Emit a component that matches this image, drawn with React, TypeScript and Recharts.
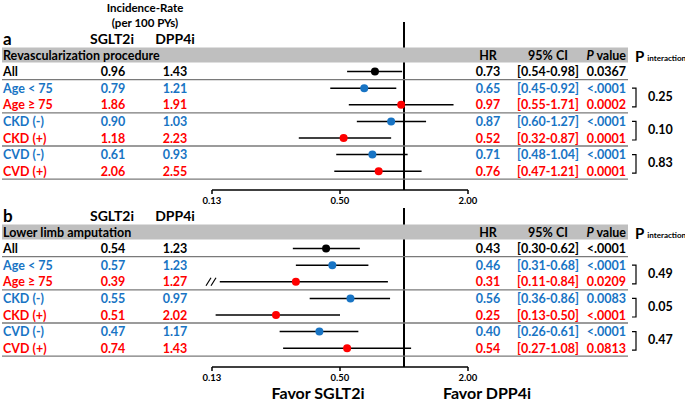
import React from 'react'
import { ScatterChart, Scatter, XAxis, YAxis, ErrorBar, ReferenceLine, ReferenceDot } from 'recharts'

const SUBGROUPS = ['All', 'Age < 75', 'Age ≥ 75', 'CKD (-)', 'CKD (+)', 'CVD (-)', 'CVD (+)']
const X_TICKS = [0.125, 0.5, 2]

// panel a: revascularization
const REV_SGLT2 = [0.96, 0.79, 1.86, 0.9, 1.18, 0.61, 2.06]
const REV_DPP4 = [1.43, 1.21, 1.91, 1.03, 2.23, 0.93, 2.55]
const REV_HR = [0.73, 0.65, 0.97, 0.87, 0.52, 0.71, 0.76]
const REV_LO = [0.54, 0.45, 0.55, 0.6, 0.32, 0.48, 0.47]
const REV_HI = [0.98, 0.92, 1.71, 1.27, 0.87, 1.04, 1.21]
const REV_P = ['0.0367', '<.0001', '0.0002', '<.0001', '0.0001', '<.0001', '0.0001']
const REV_PINT = ['0.25', '0.10', '0.83']

// panel b: amputation
const AMP_SGLT2 = [0.54, 0.57, 0.39, 0.55, 0.51, 0.47, 0.74]
const AMP_DPP4 = [1.23, 1.23, 1.27, 0.97, 2.02, 1.17, 1.43]
const AMP_HR = [0.43, 0.46, 0.31, 0.56, 0.25, 0.4, 0.54]
const AMP_LO = [0.3, 0.31, 0.11, 0.36, 0.13, 0.26, 0.27]
const AMP_HI = [0.62, 0.68, 0.84, 0.86, 0.5, 0.61, 1.08]
const AMP_P = ['<.0001', '<.0001', '0.0209', '0.0083', '<.0001', '<.0001', '0.0813']
const AMP_PINT = ['0.49', '0.05', '0.47']

const AXIS_MIN = 0.125
const BREAK_LO = 0.136

const BLACK = '#000'
const BLUE = '#1874c4'
const RED = '#ff0000'
const ROW_COLOR = [BLACK, BLUE, RED, BLUE, RED, BLUE, RED]
const FONT = 'Lato, sans-serif'
const FS = 12.5

const ROW_H = 16.6
const HEADER_Y = 55
const AXIS_Y = 190

type Panel = {
  letter: string
  title: string
  sglt2: number[]
  dpp4: number[]
  hr: number[]
  lo: number[]
  hi: number[]
  p: string[]
  pint: string[]
  showIR: boolean
}

const PANELS: Panel[] = [
  { letter: 'a', title: 'Revascularization procedure', sglt2: REV_SGLT2, dpp4: REV_DPP4, hr: REV_HR, lo: REV_LO, hi: REV_HI, p: REV_P, pint: REV_PINT, showIR: true },
  { letter: 'b', title: 'Lower limb amputation', sglt2: AMP_SGLT2, dpp4: AMP_DPP4, hr: AMP_HR, lo: AMP_LO, hi: AMP_HI, p: AMP_P, pint: AMP_PINT, showIR: false },
]

const txt = { fontFamily: FONT, fontWeight: 700 } as const

function RowTick(props: any) {
  const { y, payload, panel } = props
  const i: number = payload.value
  const p: Panel = panel
  if (i === 0) {
    return (
      <g style={txt}>
        <rect x={2} y={y - 7.5} width={626} height={15} fill="#bfbfbf" />
        <text x={3} y={y} dominantBaseline="central" fontSize={FS} fill={BLACK}>{p.title}</text>
        <text x={488} y={y} dominantBaseline="central" textAnchor="middle" fontSize={FS}>HR</text>
        <text x={548} y={y} dominantBaseline="central" textAnchor="middle" fontSize={FS}>95% CI</text>
        <text x={626} y={y} dominantBaseline="central" textAnchor="end" fontSize={FS}>
          <tspan fontStyle="italic">P</tspan> value
        </text>
        <text x={635} y={y + 1} dominantBaseline="central" fontSize={15}>
          P<tspan fontSize={8} dx={3} dy={2}>interaction</tspan>
        </text>
        <text x={3} y={y - 17} dominantBaseline="central" fontSize={17}>{p.letter}</text>
        <text x={112} y={y - 17} dominantBaseline="central" textAnchor="middle" fontSize={14}>SGLT2i</text>
        <text x={175} y={y - 17} dominantBaseline="central" textAnchor="middle" fontSize={14}>DPP4i</text>
        {p.showIR && (
          <>
            <text x={145} y={y - 48} dominantBaseline="central" textAnchor="middle" fontSize={11.5}>Incidence-Rate</text>
            <text x={145} y={y - 33} dominantBaseline="central" textAnchor="middle" fontSize={11.5}>(per 100 PYs)</text>
          </>
        )}
      </g>
    )
  }
  const k = i - 1
  const color = ROW_COLOR[k]
  const pairStart = k % 2 === 1
  return (
    <g style={txt} fill={color}>
      <text x={3} y={y} dominantBaseline="central" fontSize={FS}>{SUBGROUPS[k]}</text>
      <text x={113} y={y} dominantBaseline="central" textAnchor="middle" fontSize={FS}>{p.sglt2[k].toFixed(2)}</text>
      <text x={175} y={y} dominantBaseline="central" textAnchor="middle" fontSize={FS}>{p.dpp4[k].toFixed(2)}</text>
      <text x={488} y={y} dominantBaseline="central" textAnchor="middle" fontSize={FS}>{p.hr[k].toFixed(2)}</text>
      <text x={548} y={y} dominantBaseline="central" textAnchor="middle" fontSize={FS}>
        [{p.lo[k].toFixed(2)}-{p.hi[k].toFixed(2)}]
      </text>
      <text x={626} y={y} dominantBaseline="central" textAnchor="end" fontSize={FS}>{p.p[k]}</text>
      {k % 2 === 0 && <line x1={2} x2={628} y1={y + 8} y2={y + 8} stroke="#7a7a7a" strokeWidth={1.3} />}
      {pairStart && (
        <>
          <path d={`M632,${y} H636 V${y + ROW_H + 2} H632`} fill="none" stroke={BLACK} strokeWidth={1.2} />
          <text x={648} y={y + ROW_H / 2} dominantBaseline="central" fontSize={FS} fill={BLACK}>
            {p.pint[(k - 1) / 2]}
          </text>
        </>
      )}
    </g>
  )
}

function BreakMark(props: any) {
  const { cx, cy } = props
  return (
    <g stroke={BLACK} strokeWidth={1.2}>
      <line x1={cx - 6} y1={cy + 4} x2={cx - 1} y2={cy - 4} />
      <line x1={cx - 1} y1={cy + 4} x2={cx + 4} y2={cy - 4} />
    </g>
  )
}

function ForestPanel({ panel, top, height, plotTop }: { panel: Panel; top: number; height: number; plotTop: number }) {
  const points = panel.hr.map((v, i) => {
    const lo = panel.lo[i] < AXIS_MIN ? BREAK_LO : panel.lo[i]
    return { hr: v, row: i + 1, err: [v - lo, panel.hi[i] - v] }
  })
  const yMin = -(HEADER_Y - plotTop) / ROW_H
  const yMax = (AXIS_Y - HEADER_Y) / ROW_H
  return (
    <div style={{ position: 'absolute', left: 0, top }}>
      <ScatterChart width={685} height={height} margin={{ top: plotTop, right: 217, bottom: 0, left: 211 }}>
        <XAxis
          dataKey="hr"
          type="number"
          scale="log"
          domain={[AXIS_MIN, 2]}
          allowDataOverflow
          ticks={X_TICKS}
          tickFormatter={v => v.toFixed(2)}
          height={height - AXIS_Y}
          tick={{ fontSize: 9.5, fontFamily: FONT, fontWeight: 700, fill: BLACK }}
          tickSize={4}
          tickMargin={3}
          axisLine={{ stroke: BLACK, strokeWidth: 1.5 }}
          tickLine={{ stroke: BLACK, strokeWidth: 1.5 }}
        />
        <YAxis
          dataKey="row"
          type="number"
          domain={[yMin, yMax]}
          allowDataOverflow
          reversed
          ticks={[0, 1, 2, 3, 4, 5, 6, 7]}
          interval={0}
          width={1}
          axisLine={false}
          tickLine={false}
          tick={(p: any) => <RowTick {...p} panel={panel} />}
        />
        <ReferenceLine x={1} stroke={BLACK} strokeWidth={2} />
        {panel.lo.map((lo, i) =>
          lo < AXIS_MIN ? <ReferenceDot key={i} x={AXIS_MIN} y={i + 1} shape={BreakMark} /> : null
        )}
        <Scatter
          data={points}
          isAnimationActive={false}
          shape={(p: any) => <circle cx={p.cx} cy={p.cy} r={4} fill={ROW_COLOR[p.payload.row - 1]} />}
        >
          <ErrorBar dataKey="err" direction="x" width={0} stroke={BLACK} strokeWidth={1.5} isAnimationActive={false} />
        </Scatter>
      </ScatterChart>
    </div>
  )
}

export default function App() {
  return (
    <div style={{ position: 'absolute', left: 0, top: 0, width: 685, height: 401, background: '#fff', overflow: 'hidden' }}>
      <ForestPanel panel={PANELS[0]} top={0} height={210} plotTop={22} />
      <ForestPanel panel={PANELS[1]} top={177} height={224} plotTop={31} />
      <div style={{ position: 'absolute', left: 318, top: 392, transform: 'translate(-50%, -50%)', ...txt, fontSize: 16, whiteSpace: 'nowrap' }}>
        Favor SGLT2i
      </div>
      <div style={{ position: 'absolute', left: 487, top: 392, transform: 'translate(-50%, -50%)', ...txt, fontSize: 16, whiteSpace: 'nowrap' }}>
        Favor DPP4i
      </div>
    </div>
  )
}
